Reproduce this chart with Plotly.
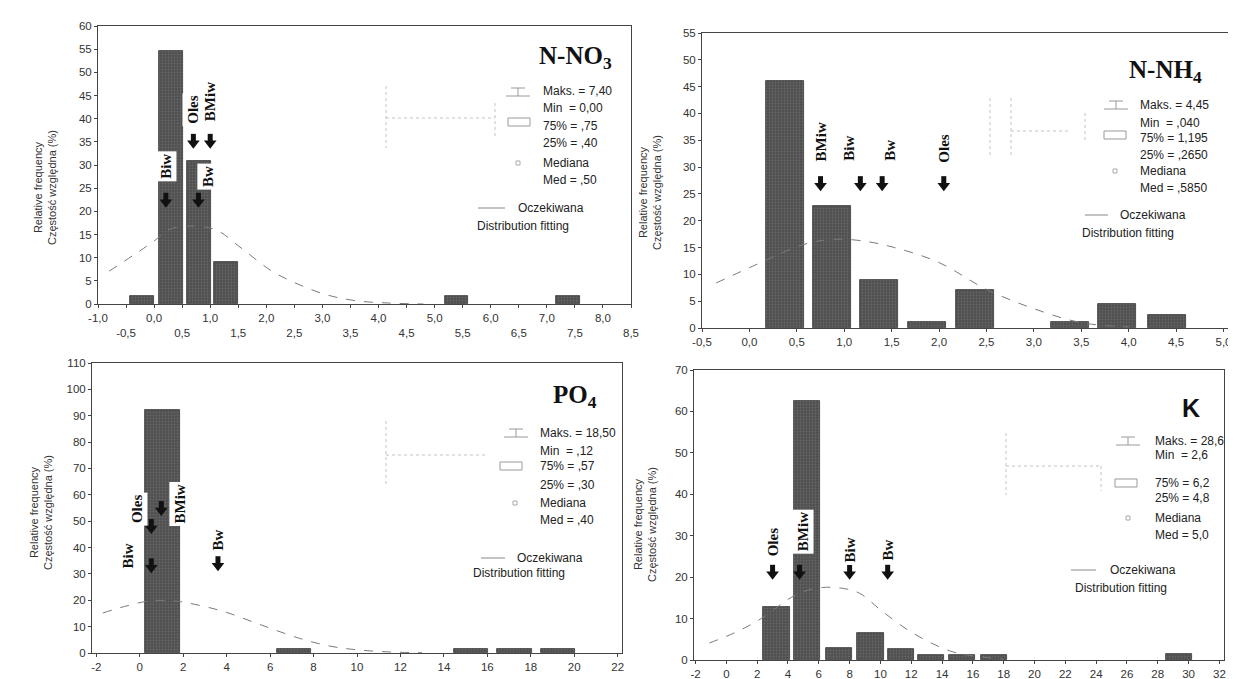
import plotly.graph_objects as go

W, H = 1236, 679

# ------------------------------------------------------------------ data
# N-NO3 histogram (relative frequency, %)
no3_x = [-0.22, 0.30, 0.80, 1.28, 5.39, 7.38]
no3_y = [1.8, 54.5, 30.9, 9.1, 1.8, 1.8]
no3_fit_x = [-0.8, 0.0, 0.25, 0.6, 1.1, 1.55, 2.1, 2.6, 3.1, 3.6, 4.2, 4.8]
no3_fit_y = [7.1, 13.6, 16.0, 16.8, 16.0, 12.1, 7.1, 4.1, 1.9, 0.7, 0.2, 0.0]
no3_stats = ["Maks. = 7,40", "Min  = 0,00", "75% = ,75", "25% = ,40", "Mediana", "Med = ,50"]
no3_lbl = ["Biw", "Bw", "Oles", "BMiw"]
no3_lbl_x = [0.21, 0.96, 0.70, 1.00]
no3_lbl_y = [29.8, 27.6, 42.0, 43.6]
no3_arr_x = [0.21, 0.79, 0.70, 1.00]
no3_arr_y = [21.0, 21.0, 33.7, 33.7]

# N-NH4
nh4_x = [0.38, 0.87, 1.37, 1.87, 2.38, 3.38, 3.88, 4.40]
nh4_y = [46.0, 22.7, 9.0, 1.1, 7.0, 1.1, 4.5, 2.5]
nh4_fit_x = [-0.35, 0.12, 0.54, 0.85, 1.17, 1.53, 2.0, 2.5, 3.0, 3.5, 4.0]
nh4_fit_y = [8.4, 12.2, 15.4, 16.5, 16.3, 15.0, 12.2, 7.2, 3.6, 1.0, 0.2]
nh4_stats = ["Maks. = 4,45", "Min  = ,040", "75% = 1,195", "25% = ,2650", "Mediana", "Med = ,5850"]
nh4_lbl = ["BMiw", "Biw", "Bw", "Oles"]
nh4_lbl_x = [0.75, 1.05, 1.48, 2.05]
nh4_lbl_y = [34.7, 33.6, 33.2, 33.4]
nh4_arr_x = [0.75, 1.17, 1.40, 2.05]
nh4_arr_y = [25.7, 25.7, 25.7, 25.7]

# PO4
po4_x = [1.05, 7.10, 15.25, 17.25, 19.25]
po4_y = [92.0, 1.5, 1.5, 1.5, 1.5]
po4_fit_x = [-1.7, 0.4, 1.6, 2.2, 3.8, 5.6, 7.3, 8.7, 10.0, 11.5, 13.0]
po4_fit_y = [15.2, 19.7, 19.7, 19.0, 15.9, 10.6, 5.7, 2.7, 1.2, 0.4, 0.1]
po4_stats = ["Maks. = 18,50", "Min  = ,12", "75% = ,57", "25% = ,30", "Mediana", "Med = ,40"]
po4_lbl = ["Biw", "Oles", "BMiw", "Bw"]
po4_lbl_x = [-0.50, -0.15, 1.86, 3.60]
po4_lbl_y = [37.0, 54.4, 56.4, 43.0]
po4_arr_x = [0.53, 0.53, 0.99, 3.60]
po4_arr_y = [30.6, 45.5, 52.3, 31.4]

# K
k_x = [3.25, 5.25, 7.30, 9.35, 11.35, 13.30, 15.30, 17.35, 29.40]
k_y = [12.8, 62.4, 2.8, 6.6, 2.6, 1.2, 1.2, 1.2, 1.5]
k_fit_x = [-1.1, 0.9, 2.6, 3.9, 5.0, 6.25, 7.55, 8.65, 10.1, 12.1, 14.5, 16.0, 18.0]
k_fit_y = [4.1, 7.2, 10.8, 14.4, 16.5, 17.5, 17.3, 16.1, 11.8, 6.5, 2.2, 1.0, 0.2]
k_stats = ["Maks. = 28,6", "Min  = 2,6", "75% = 6,2", "25% = 4,8", "Mediana", "Med = 5,0"]
k_lbl = ["Oles", "BMiw", "Biw", "Bw"]
k_lbl_x = [3.00, 4.95, 8.00, 10.47]
k_lbl_y = [28.3, 31.0, 26.6, 26.6]
k_arr_x = [3.00, 4.75, 8.00, 10.47]
k_arr_y = [19.6, 19.6, 19.6, 19.6]

ytitle = "Relative frequency<br>Częstość względna (%)"

# ------------------------------------------------------------------ helpers
def px(x):
    return x / W

def py(y):
    return 1 - y / H

panels = [
    dict(ax="", bx=no3_x, by=no3_y, bw=0.42, fx=no3_fit_x, fy=no3_fit_y,
         xdom=[90, 623], ydom=[18, 296], xr=[-1.0, 8.5], yr=[0, 60], ydt=5,
         xt=[-1.0 + 0.5 * i for i in range(20)], title="<b>N-NO<sub>3</sub></b>", tfont="Liberation Serif",
         tpos=(567, 50), stats=no3_stats, lbl=(no3_lbl, no3_lbl_x, no3_lbl_y, no3_arr_x, no3_arr_y),
         sx=533, rows=[83, 100, 118, 135, 155, 172], ocz=(508, 200), dist=(467, 218), dash=(470, 497, 200),
         wh=(510, 84), box=(511, 114), med=(510, 155), ytp=(37, 180),
         faint=[(378, 78, 378, 140), (378, 110, 487, 110), (487, 95, 487, 130)]),
    dict(ax="2", bx=nh4_x, by=nh4_y, bw=0.40, fx=nh4_fit_x, fy=nh4_fit_y,
         xdom=[694, 1225], ydom=[25, 320], xr=[-0.5, 5.1], yr=[0, 55], ydt=5,
         xt=[-0.5 + 0.5 * i for i in range(12)], title="<b>N-NH<sub>4</sub></b>", tfont="Liberation Serif",
         tpos=(1157, 63), stats=nh4_stats, lbl=(nh4_lbl, nh4_lbl_x, nh4_lbl_y, nh4_arr_x, nh4_arr_y),
         sx=1130, rows=[97, 115, 130, 147, 163, 180], ocz=(1110, 207), dist=(1072, 225), dash=(1077, 1100, 207),
         wh=(1108, 97), box=(1107, 127), med=(1107, 163), ytp=(642, 185),
         faint=[(982, 90, 982, 150), (1003, 90, 1003, 150), (1003, 123, 1060, 123), (1077, 105, 1077, 135)]),
    dict(ax="3", bx=po4_x, by=po4_y, bw=1.6, fx=po4_fit_x, fy=po4_fit_y,
         xdom=[84, 614], ydom=[355, 645], xr=[-2.2, 22.2], yr=[0, 110], ydt=10,
         xt=[-2 + 2 * i for i in range(13)], title="<b>PO<sub>4</sub></b>", tfont="Liberation Serif",
         tpos=(567, 388), stats=po4_stats, lbl=(po4_lbl, po4_lbl_x, po4_lbl_y, po4_arr_x, po4_arr_y),
         sx=530, rows=[425, 443, 458, 477, 495, 512], ocz=(507, 550), dist=(463, 565), dash=(473, 497, 550),
         wh=(508, 425), box=(503, 458), med=(507, 495), ytp=(33, 505),
         faint=[(378, 413, 378, 477), (378, 447, 477, 447)]),
    dict(ax="4", bx=k_x, by=k_y, bw=1.7, fx=k_fit_x, fy=k_fit_y,
         xdom=[686, 1216], ydom=[362, 652], xr=[-2.1, 32.3], yr=[0, 70], ydt=10,
         xt=[-2 + 2 * i for i in range(18)], title="<b>K</b>", tfont="Liberation Sans",
         tpos=(1183, 400), stats=k_stats, lbl=(k_lbl, k_lbl_x, k_lbl_y, k_arr_x, k_arr_y),
         sx=1145, rows=[433, 447, 475, 490, 510, 527], ocz=(1100, 562), dist=(1065, 580), dash=(1063, 1088, 562),
         wh=(1120, 433), box=(1118, 475), med=(1120, 510), ytp=(637, 517),
         faint=[(998, 425, 998, 487), (998, 458, 1093, 458), (1093, 458, 1093, 483)]),
]

fig = go.Figure()
annotations = []
shapes = []
axis_font = dict(family="Liberation Sans, Arial", size=11.5, color="#333")
txt_font = dict(family="Liberation Sans, Arial", size=12, color="#222")

for i, p in enumerate(panels):
    xa = "x" + p["ax"]
    ya = "y" + p["ax"]
    fig.add_trace(go.Bar(
        x=p["bx"], y=p["by"], width=p["bw"], xaxis=xa, yaxis=ya,
        marker=dict(color="#555555", line=dict(color="#3a3a3a", width=0.8),
                    pattern=dict(shape=".", fgcolor="#7e7e7e", bgcolor="#4f4f4f", size=3, solidity=0.3)),
        hoverinfo="skip", showlegend=False))
    fig.add_trace(go.Scatter(
        x=p["fx"], y=p["fy"], mode="lines", xaxis=xa, yaxis=ya,
        line=dict(color="#7a7a7a", width=1, dash="dash", shape="spline"),
        hoverinfo="skip", showlegend=False))

    # site labels (white boxes over the bars)
    names, lx, ly, axx, ayy = p["lbl"]
    for n, x_, y_ in zip(names, lx, ly):
        annotations.append(dict(x=x_, y=y_, xref=xa, yref=ya, text="<b>%s</b>" % n, textangle=-90,
                                showarrow=False, xanchor="center", yanchor="middle", bgcolor="white",
                                borderpad=2, font=dict(family="Liberation Serif", size=15, color="#111")))
    # block arrows: stem + head, built from the arrow tip positions
    ppu = (p["ydom"][1] - p["ydom"][0]) / (p["yr"][1] - p["yr"][0])
    head_y = [t + 4.5 / ppu for t in ayy]
    sx_, sy_ = [], []
    for x_, t in zip(axx, ayy):
        sx_ += [x_, x_, None]
        sy_ += [t + 5 / ppu, t + 14 / ppu, None]
    fig.add_trace(go.Scatter(x=sx_, y=sy_, mode="lines", xaxis=xa, yaxis=ya,
                             line=dict(color="#111", width=5), hoverinfo="skip", showlegend=False))
    fig.add_trace(go.Scatter(x=axx, y=head_y, mode="markers", xaxis=xa, yaxis=ya,
                             marker=dict(symbol="triangle-down", size=11, color="#111",
                                         line=dict(width=0)),
                             hoverinfo="skip", showlegend=False))

    # tick texts
    if i == 0:
        ttext = []
        for v in p["xt"]:
            s = ("%.1f" % v).replace(".", ",")
            ttext.append(s if abs(v - round(v)) < 1e-9 else "<br>" + s)
    elif i == 1:
        ttext = [("%.1f" % v).replace(".", ",") for v in p["xt"]]
    else:
        ttext = ["%d" % v for v in p["xt"]]
    yt = list(range(p["yr"][0], p["yr"][1] + 1, p["ydt"]))

    xkey = "xaxis" + p["ax"]
    ykey = "yaxis" + p["ax"]
    fig.layout[xkey] = dict(
        domain=[px(p["xdom"][0]), px(p["xdom"][1])], range=p["xr"], anchor=ya,
        tickvals=p["xt"], ticktext=ttext, tickfont=axis_font, ticks="outside", ticklen=3,
        tickcolor="#444", showline=True, mirror=True, linecolor="#444", linewidth=1,
        showgrid=False, zeroline=False, automargin=False)
    fig.layout[ykey] = dict(
        domain=[py(p["ydom"][1]), py(p["ydom"][0])], range=p["yr"], anchor=xa,
        tickvals=yt, tickfont=axis_font, ticks="outside", ticklen=3,
        tickcolor="#444", showline=True, mirror=True, linecolor="#444", linewidth=1,
        showgrid=False, zeroline=False, automargin=False)

    # panel title
    annotations.append(dict(x=px(p["tpos"][0]), y=py(p["tpos"][1]), xref="paper", yref="paper",
                            text=p["title"], showarrow=False, xanchor="center", yanchor="middle",
                            font=dict(family=p["tfont"], size=25, color="#111")))
    # y-axis title
    annotations.append(dict(x=px(p["ytp"][0]), y=py(p["ytp"][1]), xref="paper", yref="paper",
                            text=ytitle, textangle=-90, showarrow=False, xanchor="center", yanchor="middle",
                            font=dict(family="Liberation Sans, Arial", size=11, color="#333")))
    # statistics text
    for txt, ry in zip(p["stats"], p["rows"]):
        annotations.append(dict(x=px(p["sx"]), y=py(ry), xref="paper", yref="paper", text=txt,
                                showarrow=False, xanchor="left", yanchor="middle", font=txt_font))
    annotations.append(dict(x=px(p["ocz"][0]), y=py(p["ocz"][1]), xref="paper", yref="paper",
                            text="Oczekiwana", showarrow=False, xanchor="left", yanchor="middle",
                            font=txt_font))
    annotations.append(dict(x=px(p["dist"][0]), y=py(p["dist"][1]), xref="paper", yref="paper",
                            text="Distribution fitting", showarrow=False, xanchor="left", yanchor="middle",
                            font=txt_font))
    # legend icons
    cx, cy = p["wh"]
    for (x0, y0, x1, y1) in [(cx - 7, cy - 4, cx + 7, cy - 4), (cx, cy - 4, cx, cy + 4), (cx - 12, cy + 4, cx + 12, cy + 4)]:
        shapes.append(dict(type="line", xref="paper", yref="paper", x0=px(x0), y0=py(y0), x1=px(x1), y1=py(y1),
                           line=dict(color="#999", width=1)))
    cx, cy = p["box"]
    shapes.append(dict(type="rect", xref="paper", yref="paper", x0=px(cx - 11), y0=py(cy - 4), x1=px(cx + 11),
                       y1=py(cy + 4), line=dict(color="#999", width=1)))
    cx, cy = p["med"]
    shapes.append(dict(type="rect", xref="paper", yref="paper", x0=px(cx - 2), y0=py(cy - 2), x1=px(cx + 2),
                       y1=py(cy + 2), line=dict(color="#aaa", width=1)))
    x0, x1, yy = p["dash"]
    shapes.append(dict(type="line", xref="paper", yref="paper", x0=px(x0), y0=py(yy), x1=px(x1), y1=py(yy),
                       line=dict(color="#888", width=1)))
    # faint box-plot glyph
    for (x0, y0, x1, y1) in p["faint"]:
        shapes.append(dict(type="line", xref="paper", yref="paper", x0=px(x0), y0=py(y0), x1=px(x1), y1=py(y1),
                           line=dict(color="#c4c4c4", width=1, dash="dot")))

fig.update_layout(
    width=W, height=H, margin=dict(l=0, r=0, t=0, b=0),
    paper_bgcolor="white", plot_bgcolor="white", bargap=0,
    annotations=annotations, shapes=shapes, showlegend=False,
)

fig.write_html("out.html")
